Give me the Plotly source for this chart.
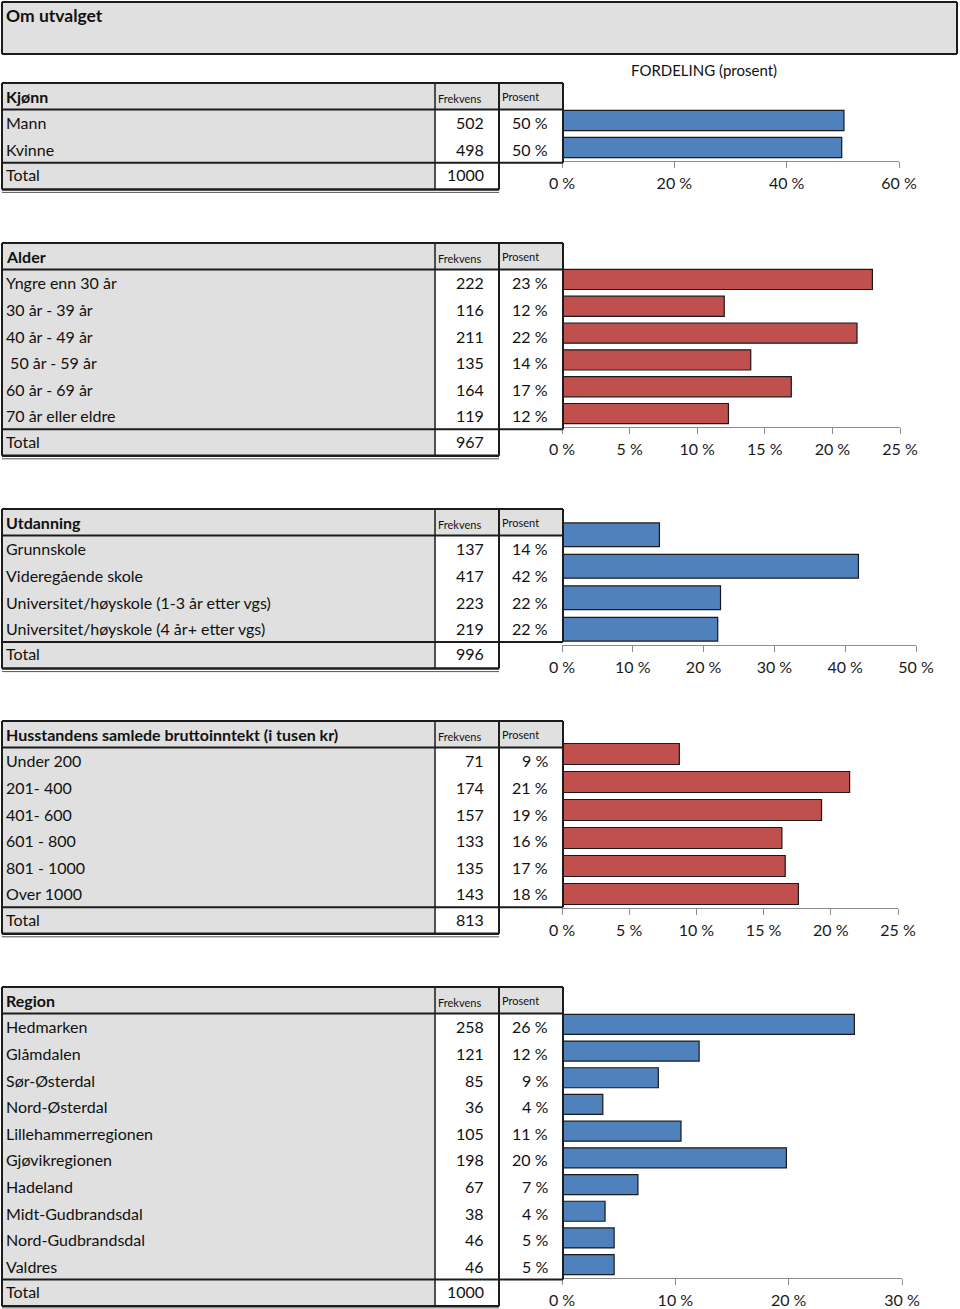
import math
import plotly.graph_objects as go

# ---------------- data ----------------
kjonn_labels = ["Mann", "Kvinne"]
kjonn_freq = [502, 498]
kjonn_pct = [50.2, 49.8]
kjonn_total = 1000
kjonn_ticks = [0, 20, 40, 60]

alder_labels = ["Yngre enn 30 år", "30 år - 39 år", "40 år - 49 år",
                "\u00a050 år - 59 år", "60 år - 69 år", "70 år eller eldre"]
alder_freq = [222, 116, 211, 135, 164, 119]
alder_pct = [22.96, 12.0, 21.82, 13.96, 16.96, 12.31]
alder_total = 967
alder_ticks = [0, 5, 10, 15, 20, 25]

utd_labels = ["Grunnskole", "Videregående skole",
              "Universitet/høyskole (1-3 år etter vgs)",
              "Universitet/høyskole (4 år+ etter vgs)"]
utd_freq = [137, 417, 223, 219]
utd_pct = [13.76, 41.87, 22.39, 21.99]
utd_total = 996
utd_ticks = [0, 10, 20, 30, 40, 50]

inc_labels = ["Under 200", "201- 400", "401- 600", "601 - 800", "801 - 1000", "Over 1000"]
inc_freq = [71, 174, 157, 133, 135, 143]
inc_pct = [8.73, 21.40, 19.31, 16.36, 16.61, 17.59]
inc_total = 813
inc_ticks = [0, 5, 10, 15, 20, 25]

reg_labels = ["Hedmarken", "Glåmdalen", "Sør-Østerdal", "Nord-Østerdal",
              "Lillehammerregionen", "Gjøvikregionen", "Hadeland",
              "Midt-Gudbrandsdal", "Nord-Gudbrandsdal", "Valdres"]
reg_freq = [258, 121, 85, 36, 105, 198, 67, 38, 46, 46]
reg_pct = [25.8, 12.1, 8.5, 3.6, 10.5, 19.8, 6.7, 3.8, 4.6, 4.6]
reg_total = 1000
reg_ticks = [0, 10, 20, 30]

# ---------------- styling / layout ----------------
W, H = 960, 1309
FONT = "Lato"
GRAY = "#e0e0e0"
BORDER = "#1c1c1c"
AXIS = "#8c8c8c"
BLUE = "#4f81bd"
RED = "#c0504d"
TXT = "#111111"
ROW_H = 26.6

sections = [
    dict(title="Kjønn", labels=kjonn_labels, freq=kjonn_freq, pct=kjonn_pct,
         total=kjonn_total, ticks=kjonn_ticks, color=BLUE,
         top=83, plot_x1=899, plot_y0=107, plot_y1=161),
    dict(title="Alder", labels=alder_labels, freq=alder_freq, pct=alder_pct,
         total=alder_total, ticks=alder_ticks, color=RED,
         top=243, plot_x1=900, plot_y0=266, plot_y1=427),
    dict(title="Utdanning", labels=utd_labels, freq=utd_freq, pct=utd_pct,
         total=utd_total, ticks=utd_ticks, color=BLUE,
         top=509, plot_x1=916, plot_y0=519, plot_y1=645),
    dict(title="Husstandens samlede bruttoinntekt (i tusen kr)", labels=inc_labels,
         freq=inc_freq, pct=inc_pct, total=inc_total, ticks=inc_ticks, color=RED,
         top=721, plot_x1=898, plot_y0=740, plot_y1=908),
    dict(title="Region", labels=reg_labels, freq=reg_freq, pct=reg_pct,
         total=reg_total, ticks=reg_ticks, color=BLUE,
         top=987, plot_x1=902, plot_y0=1011, plot_y1=1278),
]


def px(x):
    return x / W


def py(y):
    return 1 - y / H


shapes = []
annotations = []


def rect(x0, y0, x1, y1, fill):
    shapes.append(dict(type="rect", xref="paper", yref="paper",
                       x0=px(x0), x1=px(x1), y0=py(y1), y1=py(y0),
                       fillcolor=fill, line=dict(width=0), layer="below"))


def line(x0, y0, x1, y1, lw=2, lc=BORDER):
    shapes.append(dict(type="line", xref="paper", yref="paper",
                       x0=px(x0), x1=px(x1), y0=py(y0), y1=py(y1),
                       line=dict(width=lw, color=lc), layer="above"))


def text(x, y, s, size=16, anchor="left"):
    annotations.append(dict(xref="paper", yref="paper", x=px(x), y=py(y),
                            text=s, showarrow=False, xanchor=anchor,
                            yanchor="middle", borderpad=0,
                            font=dict(family=FONT, size=size, color=TXT)))


def pct_label(p):
    return f"{int(math.floor(p + 0.5))} %"


# title box
rect(2, 2, 957, 54, GRAY)
line(2, 2, 957, 2)
line(2, 54, 957, 54)
line(2, 2, 2, 54)
line(957, 2, 957, 54)
text(5, 15, "<b>Om utvalget</b>", size=17.5)
text(704, 70, "FORDELING (prosent)", size=15, anchor="center")

fig = go.Figure()
layout_axes = {}

for k, s in enumerate(sections, start=1):
    top = s["top"]
    n = len(s["labels"])
    hb = top + ROW_H
    db = hb + n * ROW_H
    tb = db + ROW_H
    # fills
    rect(2, top, 563, hb, GRAY)
    rect(2, hb, 435, db, GRAY)
    rect(435, hb, 563, db, "white")
    rect(2, db, 435, tb, GRAY)
    rect(435, db, 499, tb, "white")
    # borders
    line(2, top, 563, top)
    line(2, hb, 563, hb)
    line(2, db, 563, db)
    line(2, top, 2, tb)
    line(435, top, 435, tb, lw=1.5)
    line(499, top, 499, tb)
    line(563, top, 563, db)
    line(2, tb, 499, tb, lw=2.5)
    line(2, tb + 3, 499, tb + 3, lw=1, lc="#555555")
    # header texts
    text(5, top + ROW_H / 2, f"<b>{s['title']}</b>", size=16)
    text(437, top + ROW_H / 2 + 2, "Frekvens", size=11)
    text(501, top + ROW_H / 2 + 0.5, "Prosent", size=11)
    # rows
    for j, (lab, f, p) in enumerate(zip(s["labels"], s["freq"], s["pct"])):
        yc = hb + ROW_H * (j + 0.5)
        text(5, yc, lab)
        text(485, yc, str(f), anchor="right")
        text(549, yc, pct_label(p), anchor="right")
    yt = db + ROW_H / 2 - 1.5
    text(5, yt, "Total")
    text(485, yt, str(s["total"]), anchor="right")

    # bar chart
    xa = "x" if k == 1 else f"x{k}"
    ya = "y" if k == 1 else f"y{k}"
    fig.add_trace(go.Bar(
        y=s["labels"], x=s["pct"], orientation="h",
        marker=dict(color=s["color"], line=dict(color="#1a1a1a", width=1.2)),
        xaxis=xa, yaxis=ya, showlegend=False, hoverinfo="skip"))
    xname = "xaxis" if k == 1 else f"xaxis{k}"
    yname = "yaxis" if k == 1 else f"yaxis{k}"
    layout_axes[xname] = dict(
        domain=[px(562), px(s["plot_x1"])], anchor=ya, automargin=False,
        range=[0, s["ticks"][-1]], tickmode="array", tickvals=s["ticks"],
        ticktext=[f"{t} %" for t in s["ticks"]],
        showline=True, linecolor=AXIS, linewidth=1.2,
        ticks="outside", ticklen=6, tickcolor=AXIS, tickwidth=1.2,
        showgrid=False, zeroline=False, ticklabelstandoff=2,
        tickfont=dict(family=FONT, size=16, color="#1a1a1a"), fixedrange=True)
    layout_axes[yname] = dict(
        domain=[py(s["plot_y1"]), py(s["plot_y0"])], anchor=xa, automargin=False,
        type="category", categoryorder="array", categoryarray=s["labels"],
        autorange="reversed", showticklabels=False, showline=False,
        showgrid=False, zeroline=False, ticks="", fixedrange=True)

fig.update_layout(
    width=W, height=H, margin=dict(l=0, r=0, t=0, b=0, pad=0, autoexpand=False),
    autosize=False,
    paper_bgcolor="white", plot_bgcolor="rgba(0,0,0,0)",
    bargap=0.25, shapes=shapes, annotations=annotations,
    font=dict(family=FONT, color=TXT), **layout_axes)

fig.write_html(
    "out.html",
    config={"responsive": False, "displayModeBar": False},
    post_script="document.body.style.margin='0';document.body.style.padding='0';"
                "document.documentElement.style.overflow='hidden';"
                "document.body.style.overflow='hidden';")
